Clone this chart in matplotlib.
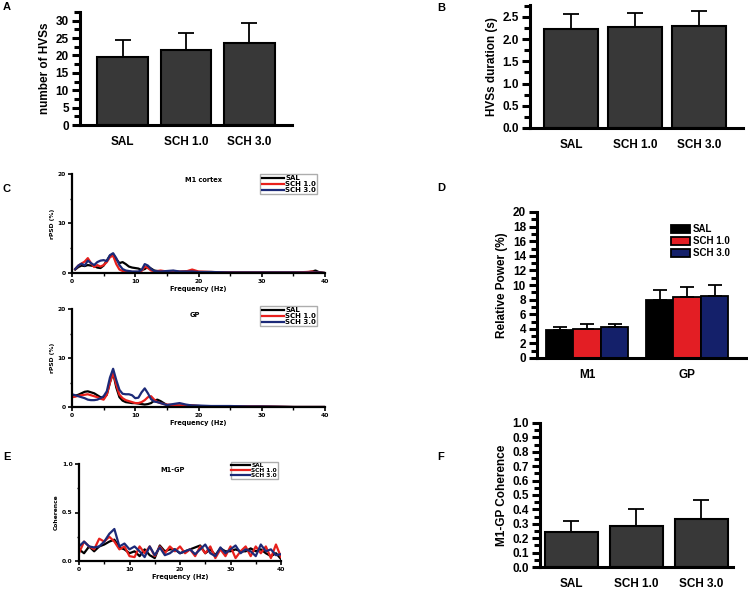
#!/usr/bin/env python3
import matplotlib
matplotlib.use('Agg')
import matplotlib.pyplot as plt
from matplotlib.ticker import MultipleLocator

plt.rcParams['font.family'] = ['Liberation Sans', 'DejaVu Sans']
plt.rcParams['font.weight'] = 'bold'

W, H = 748, 590

GROUPS = ['SAL', 'SCH 1.0', 'SCH 3.0']
LINE_COLORS = ['#000000', '#e8201c', '#1c2a78']
BAR_COLORS = ['#000000', '#e31e24', '#14206a']
GRAY = '#383838'
SPEC_FONT = 'DejaVu Sans'  # wide bold face used in the small spectrum panels

# A: number of HVSs
hvs_count = [19.7, 21.5, 23.6]
hvs_count_err = [24.4, 26.6, 29.2]
# B: HVSs duration
hvs_dur = [2.22, 2.27, 2.30]
hvs_dur_err = [2.57, 2.58, 2.64]
# D: relative power, per region
regions = ['M1', 'GP']
rel_power = {'SAL': [3.9, 8.0], 'SCH 1.0': [4.0, 8.3], 'SCH 3.0': [4.2, 8.5]}
rel_power_err = {'SAL': [4.3, 9.3], 'SCH 1.0': [4.7, 9.7], 'SCH 3.0': [4.7, 10.0]}
# F: M1-GP coherence
coh_mean = [0.245, 0.285, 0.333]
coh_mean_err = [0.32, 0.40, 0.463]

# C: rPSD M1 cortex
m1_f = [0.5, 1, 1.5, 2, 2.5, 3, 3.5, 4, 4.5, 5, 5.5, 6, 6.5, 7, 7.5, 8, 8.5, 9, 9.5, 10,
        10.5, 11, 11.5, 12, 12.5, 13, 14, 15, 16, 17, 18, 19, 20, 22, 25, 28, 30, 33,
        35, 37, 38, 38.5, 39, 40]
m1_sal = [0.7, 1.2, 1.5, 1.4, 1.6, 1.5, 1.4, 1.1, 1.0, 1.5, 2.5, 3.5, 3.8, 2.8, 2.0, 2.2,
          1.8, 1.3, 1.1, 1.0, 0.9, 0.6, 0.8, 1.3, 0.9, 0.5, 0.3, 0.3, 0.2, 0.2, 0.3, 0.3,
          0.2, 0.2, 0.1, 0.1, 0.1, 0.1, 0.1, 0.1, 0.3, 0.5, 0.2, 0.0]
m1_sch1 = [0.8, 1.5, 1.9, 2.3, 3.0, 2.0, 1.2, 1.6, 1.3, 1.6, 2.2, 3.2, 3.5, 1.8, 0.7, 0.4,
           0.3, 0.3, 0.2, 0.2, 0.2, 0.4, 1.3, 1.0, 0.5, 0.3, 0.5, 0.3, 0.4, 0.3, 0.3, 0.7,
           0.3, 0.2, 0.1, 0.1, 0.1, 0.1, 0.1, 0.2, 0.3, 0.1, 0.1, 0.0]
m1_sch3 = [0.8, 1.5, 1.9, 1.5, 2.5, 2.0, 1.6, 2.2, 2.5, 2.6, 2.4, 3.6, 4.0, 3.0, 1.6, 0.8,
           0.5, 0.4, 0.3, 0.3, 0.3, 0.6, 1.8, 1.5, 0.8, 0.4, 0.3, 0.4, 0.5, 0.3, 0.3, 0.3,
           0.2, 0.2, 0.1, 0.1, 0.1, 0.1, 0.1, 0.1, 0.1, 0.1, 0.1, 0.0]

# C: rPSD GP
gp_f = [0, 0.5, 1, 1.5, 2, 2.5, 3, 3.5, 4, 4.5, 5, 5.5, 6, 6.5, 7, 7.5, 8, 8.5, 9, 9.5, 10,
        10.5, 11, 11.5, 12, 12.5, 13, 13.5, 14, 14.5, 15, 16, 17, 18, 19, 20, 22, 25, 28,
        30, 35, 40]
gp_sal = [2.2, 2.3, 2.5, 2.8, 3.1, 3.2, 3.0, 2.8, 2.4, 2.0, 1.9, 2.5, 5.0, 7.0, 4.0, 2.0,
          1.3, 1.0, 0.9, 0.8, 0.8, 0.7, 0.6, 0.5, 0.6, 0.8, 1.3, 1.5, 1.2, 0.8, 0.4, 0.3,
          0.3, 0.3, 0.3, 0.2, 0.1, 0.1, 0.1, 0.1, 0.0, 0.0]
gp_sch1 = [2.0, 2.1, 2.3, 2.4, 2.5, 2.6, 2.4, 2.2, 2.0, 1.7, 1.5, 2.5, 5.0, 7.0, 4.5, 2.5,
           1.8, 1.4, 1.2, 1.0, 0.8, 0.8, 1.0, 1.4, 2.0, 2.2, 1.5, 1.0, 0.8, 0.6, 0.5, 0.4,
           0.3, 0.3, 0.3, 0.2, 0.1, 0.1, 0.1, 0.1, 0.0, 0.0]
gp_sch3 = [2.6, 2.4, 2.2, 2.0, 1.8, 1.5, 1.4, 1.4, 1.5, 1.8, 2.2, 3.2, 6.0, 7.8, 5.5, 3.5,
           2.7, 2.6, 2.6, 2.4, 1.8, 1.9, 3.0, 3.8, 2.8, 1.6, 1.1, 1.0, 0.8, 0.6, 0.4, 0.6,
           0.8, 0.5, 0.3, 0.3, 0.2, 0.2, 0.1, 0.1, 0.0, 0.0]

# E: M1-GP coherence spectrum
coh_f = list(range(41))
coh_sal = [0.12, 0.08, 0.15, 0.10, 0.15, 0.17, 0.20, 0.22, 0.14, 0.12, 0.08, 0.10, 0.05,
           0.12, 0.06, 0.03, 0.16, 0.10, 0.12, 0.12, 0.08, 0.10, 0.12, 0.14, 0.16, 0.08,
           0.12, 0.06, 0.13, 0.10, 0.10, 0.12, 0.10, 0.10, 0.13, 0.10, 0.12, 0.08, 0.05,
           0.08, 0.02]
coh_sch1 = [0.08, 0.20, 0.15, 0.12, 0.23, 0.20, 0.25, 0.20, 0.12, 0.15, 0.05, 0.04, 0.15,
            0.08, 0.15, 0.05, 0.15, 0.08, 0.15, 0.10, 0.15, 0.08, 0.12, 0.05, 0.15, 0.08,
            0.15, 0.03, 0.12, 0.05, 0.15, 0.03, 0.10, 0.15, 0.05, 0.15, 0.08, 0.15, 0.03,
            0.17, 0.04]
coh_sch3 = [0.15, 0.20, 0.15, 0.14, 0.15, 0.20, 0.28, 0.33, 0.15, 0.18, 0.12, 0.15, 0.10,
            0.04, 0.15, 0.06, 0.14, 0.06, 0.08, 0.12, 0.08, 0.10, 0.12, 0.07, 0.12, 0.17,
            0.08, 0.05, 0.14, 0.08, 0.12, 0.16, 0.08, 0.12, 0.10, 0.05, 0.17, 0.10, 0.12,
            0.06, 0.07]


def box(x0, y0, x1, y1):
    """ pixel box -> figure fraction """
    return [x0 / W, 1 - y1 / H, (x1 - x0) / W, (y1 - y0) / H]


def bar_style(ax, lw=2.2):
    for s in ['top', 'right']:
        ax.spines[s].set_visible(False)
    for s in ['left', 'bottom']:
        ax.spines[s].set_linewidth(lw)
    ax.tick_params(axis='y', which='major', length=6, width=lw, labelsize=8.5, pad=2)
    ax.tick_params(axis='y', which='minor', length=4, width=lw)
    ax.tick_params(axis='x', length=0, labelsize=8.5, pad=8)


def mean_bars(ax, vals, errs, ylim, major, minor, ylabel, xlim, width):
    x = range(len(GROUPS))
    up = [e - v for v, e in zip(vals, errs)]
    ax.bar(x, vals, width, color=GRAY, edgecolor='black', linewidth=1.5,
           yerr=[[0] * len(vals), up], capsize=6,
           error_kw=dict(elinewidth=1.3, capthick=1.3, ecolor='black'))
    ax.set_xticks(list(x))
    ax.set_xticklabels(GROUPS)
    ax.set_xlim(*xlim)
    ax.set_ylim(*ylim)
    ax.yaxis.set_major_locator(MultipleLocator(major))
    ax.yaxis.set_minor_locator(MultipleLocator(minor))
    ax.set_ylabel(ylabel, fontsize=8.5, fontweight='bold', labelpad=3)
    bar_style(ax)


def spectrum(ax, series, ylim, yticks, yminor, ylabel, title, title_x, leg_box, leg_fs):
    for (f, v), c, name in zip(series, LINE_COLORS, GROUPS):
        ax.plot(f, v, color=c, lw=1.6, label=name)
    ax.set_xlim(0, 40)
    ax.set_ylim(*ylim)
    ax.set_xticks([0, 10, 20, 30, 40])
    ax.xaxis.set_minor_locator(MultipleLocator(5))
    ax.set_yticks(yticks)
    ax.yaxis.set_minor_locator(MultipleLocator(yminor))
    for s in ['top', 'right']:
        ax.spines[s].set_visible(False)
    for s in ['left', 'bottom']:
        ax.spines[s].set_linewidth(1.6)
    ax.tick_params(which='major', length=3, width=1.2, labelsize=4.3, pad=1.5)
    ax.tick_params(which='minor', length=1.8, width=1.0)
    for lab in ax.get_xticklabels() + ax.get_yticklabels():
        lab.set_family(SPEC_FONT)
    ax.set_xlabel('Frequency (Hz)', fontsize=4.8, fontweight='bold', labelpad=1.5,
                  family=SPEC_FONT)
    ax.set_ylabel(ylabel, fontsize=4.3, fontweight='bold', labelpad=2, family=SPEC_FONT)
    ax.text(title_x, 0.97, title, transform=ax.transAxes, fontsize=4.8,
            fontweight='bold', ha='center', va='top', family=SPEC_FONT)
    leg = ax.legend(loc='upper left', bbox_to_anchor=leg_box,
                    prop=dict(family=SPEC_FONT, weight='bold', size=leg_fs),
                    frameon=True, fancybox=False, handlelength=3.2, handletextpad=0.2,
                    borderpad=0.15, labelspacing=0.0, borderaxespad=0)
    leg.get_frame().set_edgecolor('#999999')
    leg.get_frame().set_linewidth(1.0)


fig = plt.figure(figsize=(W / 100, H / 100), dpi=100)

# A
ax = fig.add_axes(box(80, 12, 292, 125))
mean_bars(ax, hvs_count, hvs_count_err, (0, 32.5), 5, 2.5, 'number of HVSs',
          (-0.67, 2.67), 0.8)

# B
ax = fig.add_axes(box(530, 5, 743, 128))
mean_bars(ax, hvs_dur, hvs_dur_err, (0, 2.77), 0.5, 0.25, 'HVSs duration (s)',
          (-0.64, 2.68), 0.84)

# C top: M1 cortex
ax = fig.add_axes(box(72, 174, 325, 273))
spectrum(ax, [(m1_f, m1_sal), (m1_f, m1_sch1), (m1_f, m1_sch3)], (0, 20), [0, 10, 20], 5,
         'rPSD (%)', 'M1 cortex', 0.52, (0.745, 1.0), 5.0)

# C bottom: GP
ax = fig.add_axes(box(72, 309, 325, 407))
spectrum(ax, [(gp_f, gp_sal), (gp_f, gp_sch1), (gp_f, gp_sch3)], (0, 20), [0, 10, 20], 5,
         'rPSD (%)', 'GP', 0.486, (0.745, 1.03), 5.0)

# E: coherence spectrum
ax = fig.add_axes(box(79, 464, 281, 561))
spectrum(ax, [(coh_f, coh_sal), (coh_f, coh_sch1), (coh_f, coh_sch3)], (0, 1.0),
         [0.0, 0.5, 1.0], 0.25, 'Coherence', 'M1-GP', 0.465, (0.75, 1.02), 4.2)
ax.set_yticklabels(['0.0', '0.5', '1.0'], family=SPEC_FONT)

# D: relative power, grouped bars
ax = fig.add_axes(box(537, 212, 747, 358))
bw = 0.275
for i, g in enumerate(GROUPS):
    xs = [r + (i - 1) * bw for r in range(len(regions))]
    up = [e - v for v, e in zip(rel_power[g], rel_power_err[g])]
    ax.bar(xs, rel_power[g], bw, color=BAR_COLORS[i], edgecolor='black', linewidth=1.3,
           yerr=[[0, 0], up], capsize=5, label=g,
           error_kw=dict(elinewidth=1.3, capthick=1.3, ecolor='black'))
ax.set_xticks(range(len(regions)))
ax.set_xticklabels(regions)
ax.set_xlim(-0.5, 1.6)
ax.set_ylim(0, 20)
ax.yaxis.set_major_locator(MultipleLocator(2))
ax.yaxis.set_minor_locator(MultipleLocator(1))
ax.set_ylabel('Relative Power (%)', fontsize=8.5, fontweight='bold', labelpad=3)
bar_style(ax)
ax.legend(loc='upper left', bbox_to_anchor=(0.64, 0.915), fontsize=7, frameon=False,
          handlelength=1.9, handleheight=1.0, handletextpad=0.3, labelspacing=0.2,
          borderaxespad=0, borderpad=0)

# F
ax = fig.add_axes(box(540, 423, 733, 567))
mean_bars(ax, coh_mean, coh_mean_err, (0, 1.0), 0.1, 0.05, 'M1-GP Coherence',
          (-0.48, 2.49), 0.82)

# panel letters
for letter, (px, py) in zip('ABCDEF', [(7, 7), (441, 8), (7, 189), (441, 188),
                                       (7, 457), (441, 457)]):
    fig.text(px / W, 1 - py / H, letter, fontsize=8, fontweight='bold',
             ha='center', va='center')

fig.savefig('out.png', dpi=100)
